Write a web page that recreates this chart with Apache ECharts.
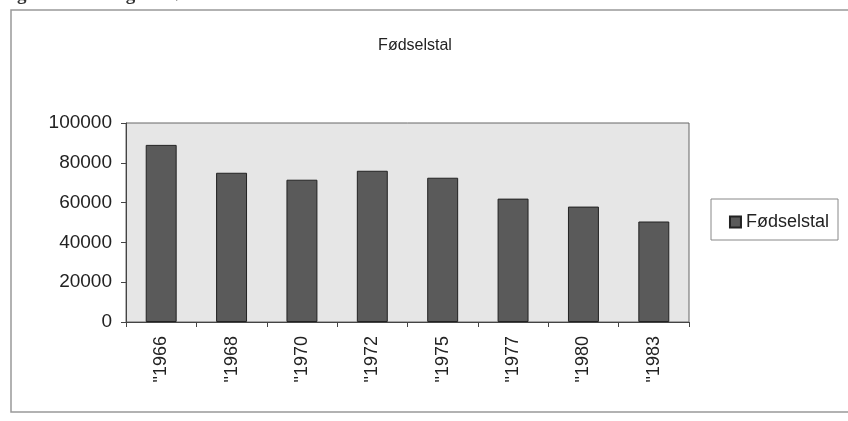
<!DOCTYPE html>
<html><head><meta charset="utf-8">
<script src="https://cdn.jsdelivr.net/npm/echarts@6/dist/echarts.min.js"></script>
<style>html,body{margin:0;padding:0;background:#fff}#c{width:848px;height:421px}</style>
</head><body><div id="c"></div>
<script>
const categories = ['"1966','"1968','"1970','"1972','"1975','"1977','"1980','"1983'];
const births = [89000, 75000, 71500, 76000, 72500, 62000, 58000, 50500];
const yTicks = [0, 20000, 40000, 60000, 80000, 100000];
const seriesName = 'Fødselstal';

const chart = echarts.init(document.getElementById('c'), null, {renderer:'canvas'});
const font = 'Liberation Sans, Arial, sans-serif';
chart.setOption({
  animation:false,
  backgroundColor:'#fff',
  graphic:[
    {type:'rect', shape:{x:11,y:10,width:900,height:402}, style:{fill:'none', stroke:'#999', lineWidth:1.5}, z:-1},
    {type:'text', left:0, top:-14, style:{text:'Fig. 1. Udviklingen i fødselstal', font:'bold 19px Liberation Serif, serif', fill:'#333'}},
    {type:'rect', shape:{x:711,y:199,width:127,height:41}, style:{fill:'#fff', stroke:'#888', lineWidth:1}, z:0}
  ],
  title:{text:'Fødselstal', left:410, top:33, textAlign:'center',
    textStyle:{fontFamily:font, fontSize:16, fontWeight:'normal', color:'#222'}},
  legend:{right:14, top:208, itemWidth:11, itemHeight:11, itemGap:3,
    textStyle:{fontFamily:font, fontSize:18, color:'#222'},
    data:[{name:seriesName, icon:'rect'}], z:5},
  grid:{left:126, right:159, top:123, bottom:99, containLabel:false,
    show:true, backgroundColor:'#e6e6e6', borderColor:'#666', borderWidth:1},
  xAxis:{type:'category', data:categories,
    axisLine:{lineStyle:{color:'#444'}},
    axisTick:{show:true, alignWithLabel:false, length:5, lineStyle:{color:'#444'}},
    axisLabel:{rotate:90, fontFamily:font, fontSize:18, color:'#222', margin:14}},
  yAxis:{type:'value', min:0, max:100000, interval:20000,
    axisLine:{show:true, lineStyle:{color:'#444'}},
    axisTick:{show:true, length:5, lineStyle:{color:'#444'}},
    splitLine:{show:false},
    axisLabel:{fontFamily:font, fontSize:19, color:'#222', margin:14,
      formatter:v => yTicks.includes(v) ? String(v) : ''}},
  series:[{name:seriesName, type:'bar', data:births, barWidth:'44%',
    itemStyle:{color:'#5a5a5a', borderColor:'#222', borderWidth:1}}]
});
</script></body></html>
